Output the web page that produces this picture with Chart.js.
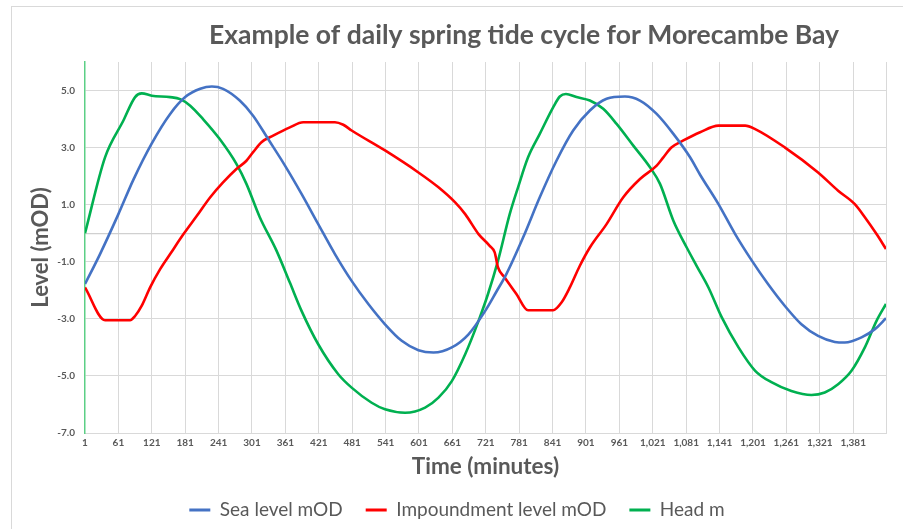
<!DOCTYPE html>
<html><head><meta charset="utf-8">
<script src="https://cdn.jsdelivr.net/npm/chart.js@4/dist/chart.umd.min.js"></script>
<style>
html,body{margin:0;padding:0;background:#fff;}
#wrap{position:relative;width:903px;height:529px;overflow:hidden;background:#fff;}
#frame{position:absolute;left:11px;top:6px;width:1000px;height:1000px;border:1.5px solid #d9d9d9;box-sizing:border-box;}
canvas{position:absolute;left:0;top:0;}
</style></head><body>
<div id="wrap"><div id="frame"></div><canvas id="c" width="903" height="529"></canvas></div>
<script>
// ---- data ----
const chartTitle = 'Example of daily spring tide cycle for Morecambe Bay';
const seriesNames = ['Sea level mOD', 'Impoundment level mOD', 'Head m'];
const xTickValues = [1,61,121,181,241,301,361,421,481,541,601,661,721,781,841,901,961,1021,1081,1141,1201,1261,1321,1381];
const xTickLabels = ['1','61','121','181','241','301','361','421','481','541','601','661','721','781','841','901','961','1,021','1,081','1,141','1,201','1,261','1,321','1,381'];
const yTickValues = [-7,-5,-3,-1,1,3,5];

const seaTime  = [1,28,61,88,121,154,181,208,229,249,279,303,330,360,390,420,450,480,510,540,570,600,627,660,690,720,740,758,788,818,848,878,908,938,971,998,1028,1058,1088,1106,1139,1169,1199,1228,1258,1288,1318,1348,1366,1396,1420,1440];
const seaLevel = [-1.78,-0.73,0.67,1.88,3.15,4.18,4.77,5.06,5.14,5.06,4.65,4.12,3.30,2.38,1.38,0.32,-0.73,-1.67,-2.48,-3.19,-3.77,-4.10,-4.18,-4.00,-3.54,-2.72,-2.05,-1.43,-0.15,1.26,2.54,3.60,4.30,4.71,4.79,4.65,4.18,3.48,2.66,2.05,1.02,-0.03,-0.96,-1.78,-2.54,-3.19,-3.60,-3.81,-3.83,-3.65,-3.36,-2.98];

const impTime  = [1,37,82,91,103,118,136,154,178,202,226,249,273,291,303,318,339,369,393,450,465,480,540,600,636,666,684,708,728,737,743,755,776,797,842,857,872,890,908,938,968,998,1028,1040,1055,1076,1106,1139,1187,1205,1258,1318,1354,1384,1402,1423,1440];
const impLevel = [-1.90,-3.05,-3.05,-2.90,-2.54,-1.90,-1.26,-0.73,-0.03,0.61,1.26,1.78,2.25,2.54,2.84,3.19,3.42,3.71,3.89,3.89,3.80,3.60,2.90,2.13,1.61,1.08,0.67,-0.03,-0.44,-0.67,-1.20,-1.55,-2.13,-2.70,-2.70,-2.43,-1.90,-1.14,-0.50,0.32,1.26,1.90,2.37,2.66,3.01,3.25,3.54,3.77,3.77,3.65,3.01,2.13,1.49,1.02,0.56,-0.03,-0.55];

const headTime  = [1,37,70,91,103,121,154,172,190,213,243,273,291,315,345,369,390,420,456,480,516,540,576,612,636,660,684,708,725,743,764,779,797,818,842,854,865,884,908,932,956,986,1016,1034,1058,1082,1100,1121,1145,1175,1205,1235,1270,1306,1330,1354,1378,1402,1423,1440];
const headLevel = [0.00,2.66,3.95,4.77,4.90,4.82,4.77,4.70,4.47,4.00,3.30,2.43,1.73,0.56,-0.61,-1.73,-2.72,-3.89,-4.94,-5.41,-5.94,-6.17,-6.29,-6.11,-5.76,-5.18,-4.24,-3.07,-2.13,-0.96,0.67,1.61,2.66,3.48,4.41,4.79,4.88,4.77,4.65,4.36,3.83,3.07,2.31,1.73,0.44,-0.50,-1.15,-1.90,-2.95,-4.00,-4.82,-5.23,-5.53,-5.67,-5.58,-5.29,-4.82,-4.00,-3.07,-2.48];

const seriesColors = ['#4472C4', '#FF0000', '#00B050'];
// -------------------------------------------------

const pts = (t, v) => t.map((x, i) => ({x: x, y: v[i]}));
const TEXT = '#595959';
Chart.defaults.font.family = 'Lato, "Open Sans", sans-serif';

const shiftTitle = {
  id: 'shiftTitle',
  afterLayout(chart) {
    const t = chart.titleBlock;
    if (t) { t.left += 67; t.right += 67; }
  }
};

new Chart(document.getElementById('c'), {
  type: 'line',
  data: {
    datasets: [
      {label: seriesNames[0], data: pts(seaTime, seaLevel), borderColor: seriesColors[0], backgroundColor: seriesColors[0]},
      {label: seriesNames[1], data: pts(impTime, impLevel), borderColor: seriesColors[1], backgroundColor: seriesColors[1]},
      {label: seriesNames[2], data: pts(headTime, headLevel), borderColor: seriesColors[2], backgroundColor: seriesColors[2]}
    ]
  },
  options: {
    responsive: false,
    animation: false,
    devicePixelRatio: 1,
    layout: {padding: {left: 28, right: 17, top: 0, bottom: -0.5}},
    elements: {
      point: {radius: 0},
      line: {borderWidth: 2.6, cubicInterpolationMode: 'monotone', fill: false}
    },
    scales: {
      x: {
        type: 'linear', min: 1, max: 1440,
        afterBuildTicks: s => { s.ticks = xTickValues.concat([1440]).map(v => ({value: v})); },
        afterFit: s => { s.height = 44.5; },
        ticks: {
          autoSkip: false, maxRotation: 0, padding: 4, color: TEXT,
          font: {size: 10, weight: 'bold'},
          callback: v => { const i = xTickValues.indexOf(v); return i >= 0 ? xTickLabels[i] : ''; }
        },
        grid: {
          drawTicks: false, lineWidth: 1,
          color: c => (c.tick && c.tick.value === 1) ? 'rgba(0,0,0,0)' : '#d9d9d9'
        },
        border: {color: '#d9d9d9', width: 1},
        title: {display: true, text: 'Time (minutes)', color: TEXT, font: {size: 22.5, weight: 'bold', lineHeight: 1.2}, padding: {top: 0, bottom: -3}}
      },
      y: {
        min: -7, max: 6,
        afterBuildTicks: s => { s.ticks = yTickValues.concat([0]).sort((a, b) => a - b).map(v => ({value: v})); },
        afterFit: s => { s.width = 57; },
        ticks: {
          padding: 10, color: TEXT, font: {size: 10, weight: 'bold'},
          callback: v => yTickValues.includes(v) ? v.toFixed(1) : ''
        },
        grid: {
          drawTicks: false,
          color: c => (c.tick && c.tick.value === 0) ? '#d0d0d0' : '#d9d9d9',
          lineWidth: c => (c.tick && c.tick.value === 0) ? 1.3 : 1
        },
        border: {color: '#5ccf86', width: 1.5},
        title: {display: true, text: 'Level (mOD)', color: TEXT, font: {size: 22, weight: 'bold', lineHeight: 1.2}, padding: 0}
      }
    },
    plugins: {
      title: {
        display: true, text: chartTitle, color: TEXT,
        font: {size: 26.5, weight: 'bold', lineHeight: 1.2},
        padding: {top: 19.1, bottom: 11.1}
      },
      legend: {
        position: 'bottom',
        labels: {
          color: TEXT, font: {size: 19}, boxWidth: 21, boxHeight: 3, padding: 23,
          generateLabels: chart => Chart.defaults.plugins.legend.labels.generateLabels(chart).map(it => {
            it.lineWidth = 0; it.fillStyle = it.strokeStyle; return it;
          })
        }
      },
      tooltip: {enabled: false}
    }
  },
  plugins: [shiftTitle]
});
</script>
</body></html>
